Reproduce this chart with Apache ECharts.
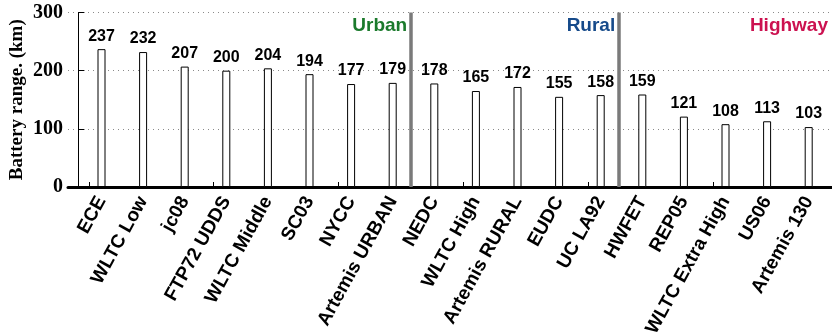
<!DOCTYPE html>
<html>
<head>
<meta charset="utf-8">
<script src="https://cdn.jsdelivr.net/npm/echarts@6/dist/echarts.min.js"></script>
<style>
  html, body { margin: 0; padding: 0; background: #fff; }
  #chart { width: 832px; height: 336px; }
</style>
</head>
<body>
<div id="chart"></div>
<script>
// ---- data ----
const categories = ['ECE', 'WLTC Low', 'jc08', 'FTP72 UDDS', 'WLTC Middle', 'SC03', 'NYCC', 'Artemis URBAN',
  'NEDC', 'WLTC High', 'Artemis RURAL', 'EUDC', 'UC LA92',
  'HWFET', 'REP05', 'WLTC Extra High', 'US06', 'Artemis 130'];
const rangeKm = [237, 232, 207, 200, 204, 194, 177, 179, 178, 165, 172, 155, 158, 159, 121, 108, 113, 103];
const regionNames = ['Urban', 'Rural', 'Highway'];
const regionSizes = [8, 5, 5];
const regionColors = ['#1b7a2c', '#164a8a', '#cc1150'];
const yMin = 0, yMax = 300, yStep = 100;

// ---- layout helpers ----
const TOP = 12.5, BOTTOM = 149, BAND = 41.6;
const nCat = categories.length;
const X_MIN = -0.25;
const X_MAX = X_MIN + (832 - 68) / BAND;

const boundaries = [];
let acc = 0;
for (let i = 0; i < regionSizes.length - 1; i++) { acc += regionSizes[i]; boundaries.push(acc); }
const regionEnds = boundaries.concat([X_MAX]);

const hiddenY = (gi) => ({ type: 'value', gridIndex: gi, min: yMin, max: yMax, interval: yStep, show: false });
const gridBase = { top: TOP, bottom: BOTTOM, containLabel: false, outerBoundsMode: 'none' };

const chart = echarts.init(document.getElementById('chart'), null, { renderer: 'canvas' });
chart.setOption({
  animation: false,
  backgroundColor: '#fff',
  grid: [
    Object.assign({ left: 68, right: 0 }, gridBase),
    Object.assign({ left: 68, width: BAND * nCat }, gridBase),
    Object.assign({ left: 80.7, width: BAND * nCat }, gridBase)
  ],
  xAxis: [
    { type: 'value', gridIndex: 0, min: X_MIN, max: X_MAX,
      axisLine: { show: true, onZero: false, lineStyle: { color: '#000', width: 3 } },
      axisTick: { show: false }, axisLabel: { show: false }, splitLine: { show: false } },
    { type: 'category', gridIndex: 1, data: categories,
      axisLine: { show: false },
      axisTick: { show: true, alignWithLabel: true, inside: true, length: 5, lineStyle: { color: '#000', width: 1 } },
      axisLabel: { show: false } },
    { type: 'category', gridIndex: 2, data: categories,
      axisLine: { show: false }, axisTick: { show: false },
      axisLabel: { show: true, interval: 0, rotate: 61, margin: 11, hideOverlap: false,
        fontFamily: 'Liberation Sans', fontWeight: 'bold', fontSize: 19, color: '#000' } }
  ],
  yAxis: [
    { type: 'value', gridIndex: 0, min: yMin, max: yMax, interval: yStep,
      name: 'Battery range. (km)', nameLocation: 'middle', nameGap: 41, nameMoveOverlap: false,
      nameTextStyle: { fontFamily: 'Liberation Serif', fontWeight: 'bold', fontSize: 19, color: '#000' },
      axisLine: { show: true, lineStyle: { color: '#000', width: 1 } },
      axisTick: { show: true, inside: true, length: 6, lineStyle: { color: '#000' } },
      axisLabel: { margin: 5, fontFamily: 'Liberation Serif', fontWeight: 'bold', fontSize: 20, color: '#000' },
      splitLine: { show: true, lineStyle: { color: '#8a8a8a', type: [1, 4], width: 1 } } },
    hiddenY(1), hiddenY(2)
  ],
  series: [
    { type: 'bar', xAxisIndex: 2, yAxisIndex: 2, data: rangeKm, barWidth: 8,
      itemStyle: { color: '#fff', borderColor: '#000', borderWidth: 1 },
      label: { show: true, position: 'top', distance: 5,
        fontFamily: 'Liberation Sans', fontWeight: 'bold', fontSize: 16, color: '#000' } },
    { type: 'line', xAxisIndex: 0, yAxisIndex: 0, data: [], silent: true,
      markLine: { symbol: 'none', silent: true, label: { show: false },
        lineStyle: { color: '#7a7a7a', width: 3.5, type: 'solid' },
        data: boundaries.map(b => [{ coord: [b, yMin] }, { coord: [b, yMax] }]) } },
    { type: 'scatter', xAxisIndex: 0, yAxisIndex: 0, symbolSize: 0, silent: true,
      itemStyle: { opacity: 1 },
      data: regionNames.map((n, i) => ({
        value: [regionEnds[i], 278], name: n,
        label: { color: regionColors[i] }
      })),
      label: { show: true, position: 'left', distance: 4, formatter: p => p.name,
        fontFamily: 'Liberation Sans', fontWeight: 'bold', fontSize: 19 } }
  ]
});
</script>
</body>
</html>
